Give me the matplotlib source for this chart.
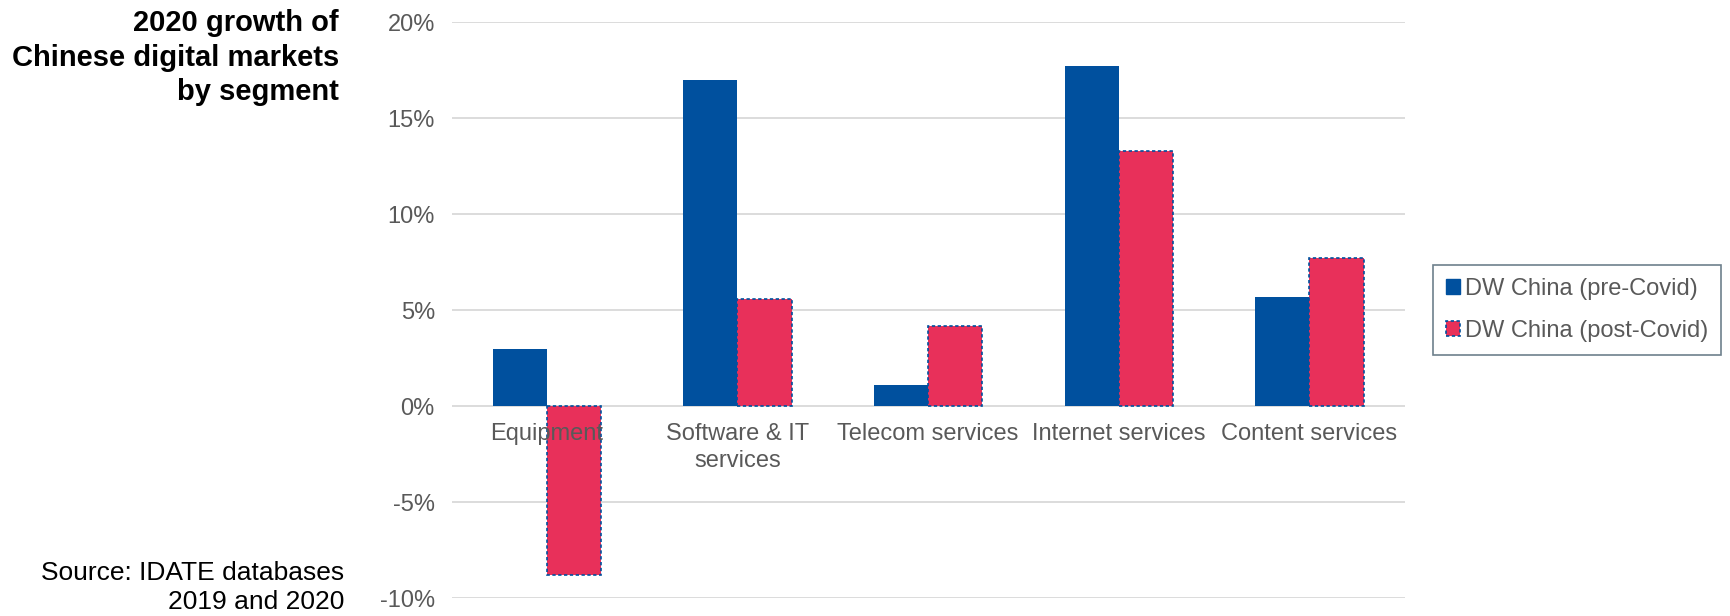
import numpy as np
import matplotlib.pyplot as plt
from matplotlib.patches import Patch

plt.rcParams["font.family"] = ["Liberation Sans", "DejaVu Sans"]

# ==============================
# Data: 2020 growth by segment (%)
# ==============================
segments = ["Equipment", "Software & IT\nservices", "Telecom services",
            "Internet services", "Content services"]
pre_covid = [3.0, 17.0, 1.1, 17.7, 5.7]
post_covid = [-8.8, 5.6, 4.2, 13.3, 7.7]
yticks = [-10, -5, 0, 5, 10, 15, 20]

blue = "#00509E"
red = "#E8305A"
grey = "#595959"

fig = plt.figure(figsize=(17.3, 6.16), dpi=100)
ax = fig.add_axes([0.261, 0.029, 0.551, 0.935])

x = np.arange(len(segments))
w = 0.284
ax.bar(x - w / 2, pre_covid, w, color=blue, zorder=3)
ax.bar(x + w / 2, post_covid, w, color=red, edgecolor=blue,
       linestyle=(0, (2, 1.5)), linewidth=1.2, zorder=3)

ax.set_xlim(-0.5, len(segments) - 0.5)
ax.set_ylim(-10, 20)
ax.set_yticks(yticks)
ax.set_yticklabels([f"{v}%" for v in yticks])
ax.tick_params(axis="y", length=0, pad=12, labelsize=17, labelcolor=grey)
ax.grid(axis="y", color="#d9d9d9", linewidth=1.3, zorder=0)
for s in ax.spines.values():
    s.set_visible(False)

# Category labels sit just under the zero line
ax.set_xticks([])
for xi, name in zip(x, segments):
    ax.annotate(name, xy=(xi, 0), xytext=(0, -12), textcoords="offset points",
                ha="center", va="top", fontsize=17, color=grey,
                linespacing=1.3, zorder=4)

# Legend
handles = [Patch(facecolor=blue, edgecolor=blue, label="DW China (pre-Covid)"),
           Patch(facecolor=red, edgecolor=blue, linestyle=(0, (2, 1.5)),
                 linewidth=1.2, label="DW China (post-Covid)")]
leg = fig.legend(handles=handles, loc="center left",
                 bbox_to_anchor=(0.8215, 0.497), frameon=True, fancybox=False,
                 fontsize=17, handlelength=0.6, handleheight=0.6,
                 handletextpad=0.2, borderpad=0.55, labelspacing=0.85)
leg.get_frame().set_edgecolor("#4a6070")
leg.get_frame().set_linewidth(1.2)
for t in leg.get_texts():
    t.set_color(grey)

# Side titles
fig.text(0.196, 0.985, "2020 growth of\nChinese digital markets\nby segment",
         ha="right", va="top", fontsize=21, fontweight="bold",
         color="black", linespacing=1.3)
fig.text(0.199, 0.004, "Source: IDATE databases\n2019 and 2020",
         ha="right", va="bottom", fontsize=19, color="black", linespacing=1.25)

fig.savefig("out.png", dpi=100)
